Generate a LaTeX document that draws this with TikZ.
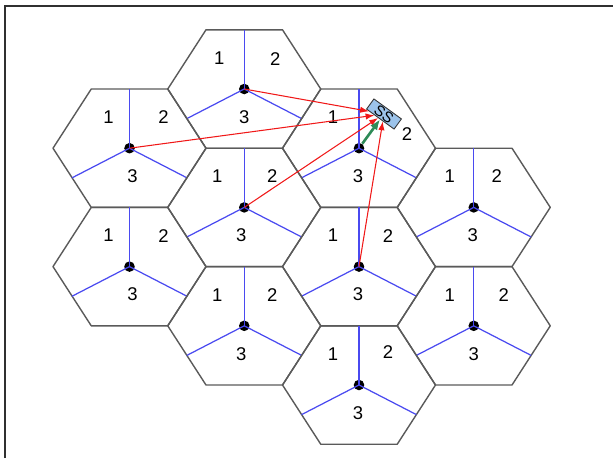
\documentclass[tikz,border=0pt]{standalone}
\usepackage{fontspec}
\setmainfont{Liberation Sans}
\usetikzlibrary{arrows.meta, calc}
\definecolor{hexgray}{HTML}{5A5A5A}
\definecolor{sectorblue}{HTML}{4A4AF0}
\definecolor{linkred}{HTML}{F01818}
\definecolor{servegreen}{HTML}{2E8B57}
\definecolor{ssfill}{HTML}{9CC3EA}
\definecolor{framegray}{HTML}{303030}
\tikzset{
  hexcell/.style={draw=hexgray, line width=0.8pt, line join=round},
  sector/.style={draw=sectorblue, line width=0.7pt},
  bsdot/.style={circle, fill=black, minimum size=6pt, inner sep=0pt},
  seclabel/.style={font=\fontsize{10.5}{12}\selectfont, inner sep=0pt},
  ssbox/.style={draw=black!80, fill=ssfill, line width=0.5pt,
                minimum width=0.68cm, minimum height=0.25cm, inner sep=0pt,
                font=\fontsize{8.5}{9}\selectfont, rotate=-36},
  redarr/.style={-{Latex[length=5pt,width=3.6pt]}, linkred, line width=0.6pt},
  greenarr/.style={-{Latex[length=6pt,width=4.8pt]}, servegreen, line width=1.5pt},
}

\begin{document}
\begin{tikzpicture}[x=0.02cm, y=-0.02cm]

  \useasboundingbox (0,0) rectangle (613,458);
  \draw[framegray, line width=1.1pt] (5,458) -- (5,6) -- (613,6);

  %% ── Cells: hexagon, three sectors, base station ─────────────────────────

  % n / x / y / x of "1" / x of "2" / y of "2" / x of "3"
  \foreach \n/\x/\y/\la/\lb/\lby/\lc in {
      1/244.25/89/-25/31/-30/0,
      2/129.5/148.2/-21/34/-31/3,
      3/359/148.2/-26/48/-14/-1,
      4/244.25/207.4/-27/28/-31/-3,
      5/473.75/207.4/-24/23/-31/-1,
      6/129.5/266.6/-21/34/-31/3,
      7/359/266.6/-26/29/-31/-1,
      8/244.25/325.8/-27/28/-31/-3,
      9/473.75/325.8/-24/30/-31/0,
      10/359/385/-26/29/-33/-1} {
    \draw[hexcell] (\x,\y) ++(-76.5,0) -- ++(38.25,-59.2) -- ++(76.5,0)
      -- ++(38.25,59.2) -- ++(-38.25,59.2) -- ++(-76.5,0) -- cycle;
    \node[bsdot] (bs\n) at (\x,\y) {};
    \draw[sector] (bs\n.center) -- ++(0,-59.2);
    \draw[sector] (bs\n.center) -- ++(-57.4,29.6);
    \draw[sector] (bs\n.center) -- ++(57.4,29.6);
    \node[seclabel] (sa\n) at ($(bs\n)+(\la,-31)$) {1};
    \node[seclabel] (sb\n) at ($(bs\n)+(\lb,\lby)$) {2};
    \node[seclabel] (sc\n) at ($(bs\n)+(\lc,28)$) {3};
  }

  %% ── Subscriber station and links ────────────────────────────────────────

  \node[ssbox] (ss) at (384,114) {SS};

  \draw[redarr] (bs1.center) -- (ss);
  \draw[redarr] (bs2.center) -- (ss);
  \draw[redarr] (bs4.center) -- (ss);
  \draw[redarr] (bs7.center) -- (ss);
  \draw[greenarr] (bs3) -- (ss);

\end{tikzpicture}
\end{document}
